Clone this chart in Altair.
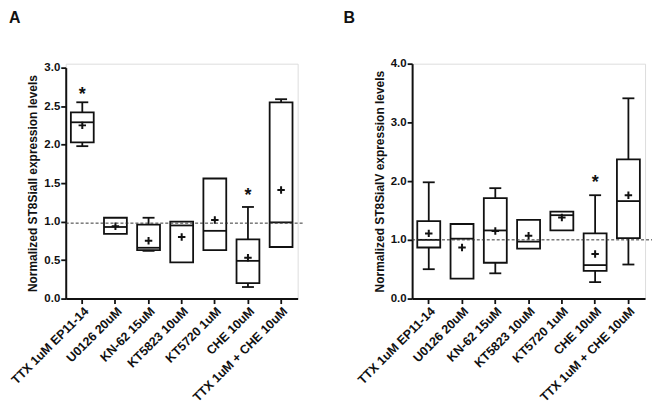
import altair as alt
import pandas as pd

groups = ["TTX 1uM EP11-14", "U0126 20uM", "KN-62 15uM", "KT5823 10uM",
          "KT5720 1uM", "CHE 10uM", "TTX 1uM + CHE 10uM"]

# Panel A: ST8SiaII
a_wmin = [1.98, 0.84, 0.62, 0.47, 0.63, 0.15, 0.67]
a_q1 = [2.03, 0.84, 0.63, 0.47, 0.63, 0.20, 0.67]
a_med = [2.29, 0.93, 0.66, 0.95, 0.88, 0.49, 0.99]
a_q3 = [2.42, 1.05, 0.96, 1.00, 1.56, 0.77, 2.55]
a_wmax = [2.55, 1.05, 1.05, 1.00, 1.56, 1.19, 2.59]
a_mean = [2.25, 0.94, 0.75, 0.80, 1.02, 0.53, 1.41]
a_star_groups = ["TTX 1uM EP11-14", "CHE 10uM"]
a_star_y = [2.68, 1.375]
a_ref = 0.98

# Panel B: ST8SiaIV
b_wmin = [0.50, 0.34, 0.43, 0.85, 1.16, 0.28, 0.58]
b_q1 = [0.87, 0.34, 0.61, 0.85, 1.16, 0.47, 1.03]
b_med = [1.00, 1.02, 1.16, 0.97, 1.42, 0.57, 1.66]
b_q3 = [1.32, 1.27, 1.71, 1.34, 1.48, 1.11, 2.37]
b_wmax = [1.98, 1.27, 1.88, 1.34, 1.48, 1.76, 3.41]
b_mean = [1.11, 0.87, 1.15, 1.07, 1.38, 0.76, 1.76]
b_star_groups = ["CHE 10uM"]
b_star_y = [2.01]
b_ref = 1.0

FONT = "Liberation Sans"
INK = "#111111"
SW = 1.8


def panel(letter, wmin, q1, med, q3, wmax, mean, star_g, star_y, ref,
          ymax, yvals, ytitle, w, h, ytop, ref_ext, lx):
    df = pd.DataFrame({"g": groups, "wmin": wmin, "q1": q1, "med": med,
                       "q3": q3, "wmax": wmax, "mean": mean})
    lo = df[df.wmin < df.q1][["g", "wmin", "q1"]].rename(columns={"wmin": "a", "q1": "b"})
    hi = df[df.wmax > df.q3][["g", "q3", "wmax"]].rename(columns={"q3": "a", "wmax": "b"})
    whisk = pd.concat([lo, hi], ignore_index=True)
    caps = pd.concat([lo[["g", "a"]].rename(columns={"a": "v"}),
                      hi[["g", "b"]].rename(columns={"b": "v"})], ignore_index=True)
    stars = pd.DataFrame({"g": star_g, "y": star_y})

    xaxis = alt.Axis(labelAngle=-45, labelFontSize=12.5, tickSize=5, labelPadding=1,
                     labelLimit=400)
    yscale = alt.Scale(domain=[0, ymax], range=[h, ytop], nice=False)
    yaxis = alt.Axis(values=yvals, format=".1f", title=ytitle, labelOverlap=False,
                     tickSize=5, labelPadding=1, titlePadding=4, grid=False)

    def X():
        return alt.X("g:N", sort=groups, title=None,
                     scale=alt.Scale(paddingInner=0, paddingOuter=0), axis=xaxis)

    def Y(f):
        return alt.Y(f, scale=yscale, axis=yaxis)

    base = alt.Chart(df)
    boxes = base.mark_bar(fill="white", fillOpacity=0, stroke=INK, strokeWidth=SW,
                          strokeOpacity=1, width=alt.RelativeBandSize(0.69)).encode(
        x=X(), y=Y("q1:Q"), y2="q3:Q")
    medians = base.mark_tick(color=INK, size=23, thickness=SW, opacity=1).encode(
        x=X(), y=Y("med:Q"))
    means = base.mark_point(shape="M -1 0 L 1 0 M 0 -1 L 0 1", size=56, filled=False,
                            stroke=INK, strokeWidth=2, opacity=1).encode(
        x=X(), y=Y("mean:Q"))
    whiskers = alt.Chart(whisk).mark_rule(color=INK, strokeWidth=SW, opacity=1).encode(
        x=X(), y=Y("a:Q"), y2="b:Q")
    capm = alt.Chart(caps).mark_tick(color=INK, size=12, thickness=SW, opacity=1).encode(
        x=X(), y=Y("v:Q"))
    starm = alt.Chart(stars).mark_text(text="*", font=FONT, fontSize=18,
                                       fontWeight="bold", color=INK, dy=3,
                                       baseline="middle").encode(
        x=X(), y=Y("y:Q"))
    refline = alt.Chart(pd.DataFrame({"r": [ref]})).mark_rule(
        strokeDash=[3, 2], color="#333333", strokeWidth=1).encode(
        y=Y("r:Q"), x=alt.value(0), x2=alt.value(w + ref_ext))
    label = alt.Chart(pd.DataFrame({"t": [letter]})).mark_text(
        font=FONT, fontSize=16, fontWeight="bold", color=INK, align="left",
        baseline="top").encode(text="t:N", x=alt.value(lx), y=alt.value(-54))
    return alt.layer(boxes, whiskers, capm, medians, means, starm, refline, label).properties(
        width=w, height=h)


pa = panel("A", a_wmin, a_q1, a_med, a_q3, a_wmax, a_mean, a_star_groups, a_star_y, a_ref,
           3.0, [0, 0.5, 1.0, 1.5, 2.0, 2.5, 3.0],
           "Normalized ST8SiaII expression levels", 233, 236, 4, 7, -57)
pb = panel("B", b_wmin, b_q1, b_med, b_q3, b_wmax, b_mean, b_star_groups, b_star_y, b_ref,
           4.0, [0, 1.0, 2.0, 3.0, 4.0],
           "Normalized ST8SiaIV expression levels", 234, 236, 0, 7, -69)

chart = alt.hconcat(pa, pb, spacing=37).properties(padding=0).configure_view(
    stroke=None).configure(background="white").configure_axis(
    labelFont=FONT, labelFontWeight="bold", labelColor=INK, labelFontSize=11.5,
    titleFont=FONT, titleFontWeight="bold", titleColor=INK, titleFontSize=12,
    domainWidth=2, domainColor=INK, tickColor=INK, tickWidth=1.8)

chart.save("out.html", embed_options={"renderer": "svg", "actions": False})
